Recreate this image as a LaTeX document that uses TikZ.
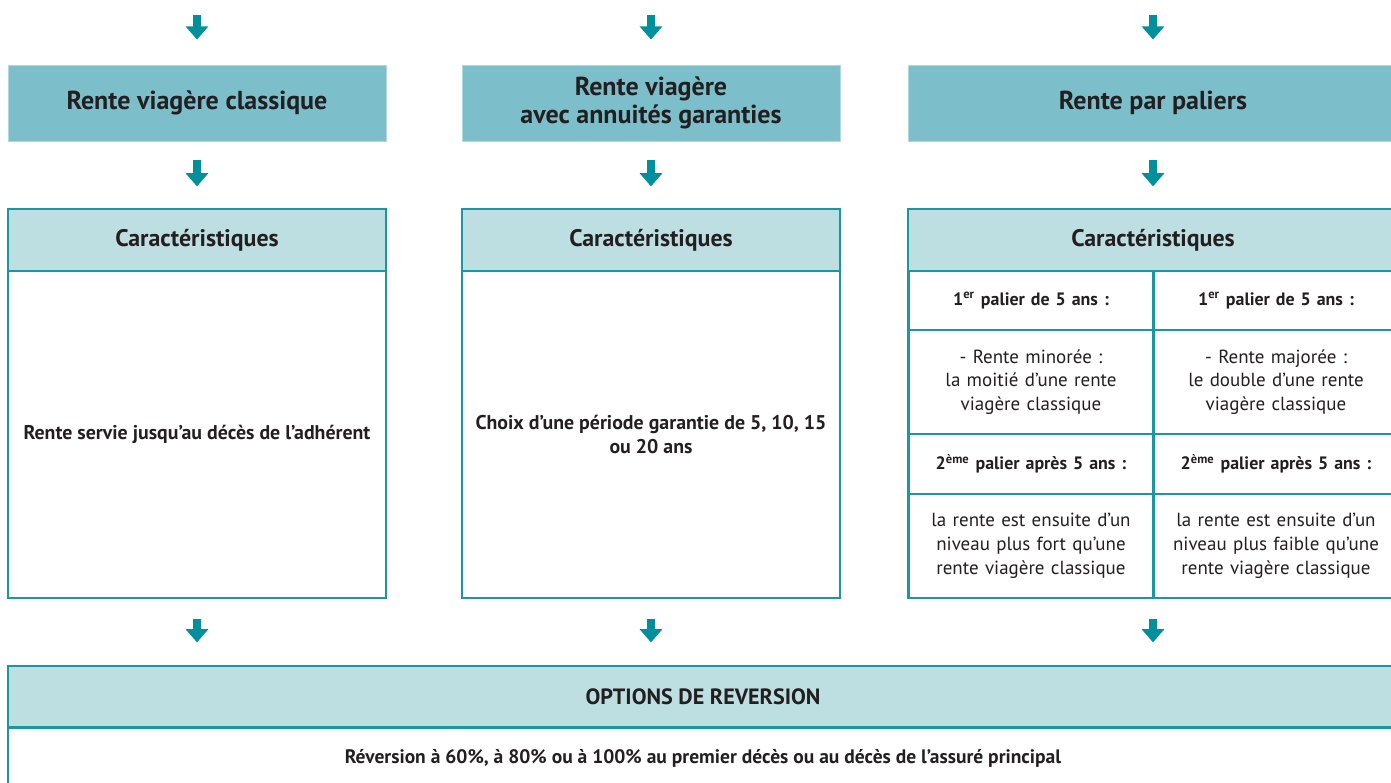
\documentclass[tikz,border=0pt]{standalone}
\usepackage{fontspec}
\setmainfont{PT Sans}
\usetikzlibrary{arrows.meta}

\definecolor{petrol}{HTML}{1A97A3}
\definecolor{arrowpetrol}{HTML}{00909C}
\definecolor{titlefill}{HTML}{7CBFCA}
\definecolor{headfill}{HTML}{BEDFE1}
\definecolor{ink}{HTML}{231F20}

\begin{document}
\begin{tikzpicture}[
	every node/.style={text=ink, align=center, inner sep=2pt},
	titlebox/.style={fill=titlefill, draw=titlefill!60, line width=0.5pt, minimum height=1.52cm, font=\bfseries\fontsize{14.8}{16}\selectfont},
	headbox/.style={fill=headfill, draw=petrol, line width=0.7pt, minimum height=1.24cm, font=\bfseries\fontsize{13.6}{15}\selectfont},
	bodybox/.style={draw=petrol, line width=0.7pt, minimum height=6.54cm, font=\bfseries\fontsize{11.3}{14}\selectfont},
	cell/.style={draw=petrol, line width=1.6pt, minimum width=4.9cm, text width=4.6cm},
	flow/.style={draw=arrowpetrol, line width=4pt, -{Triangle[width=12.5pt,length=7.5pt]}}
	]
	\clip (0,0) rectangle (27.82,-15.64);
	
	% Draw nodes, the three kinds of annuity
	\node[titlebox, minimum width=7.56cm] (classic) at (3.94,-2.06) {Rente viagère classique};
	\node[titlebox, minimum width=7.56cm] (annuity) at (13.02,-2.06) {Rente viagère\\avec annuités garanties};
	\node[titlebox, minimum width=9.8cm] (steps) at (23.06,-2.06) {Rente par paliers};
	
	% Draw nodes, characteristics
	\node[headbox, minimum width=7.56cm] (car1) at (3.94,-4.8) {Caractéristiques};
	\node[headbox, minimum width=7.56cm] (car2) at (13.02,-4.8) {Caractéristiques};
	\node[headbox, minimum width=9.8cm] (car3) at (23.06,-4.8) {Caractéristiques};
	\node[bodybox, minimum width=7.56cm] (body1) at (3.94,-8.69) {Rente servie jusqu’au décès de l’adhérent};
	\node[bodybox, minimum width=7.56cm] (body2) at (13.02,-8.69) {Choix d’une période garantie de 5, 10, 15\\ou 20 ans};
	\node[bodybox, minimum width=9.8cm] (body3) at (23.06,-8.69) {};
	
	% Draw nodes, the table of steps
	\node[cell, minimum height=1.18cm, font=\bfseries\fontsize{10.2}{13}\selectfont] (p1a) at (20.62,-6.01) {1\textsuperscript{er} palier de 5 ans :};
	\node[cell, minimum height=1.18cm, font=\bfseries\fontsize{10.2}{13}\selectfont] (p1b) at (25.52,-6.01) {1\textsuperscript{er} palier de 5 ans :};
	\node[cell, minimum height=2.08cm, font=\fontsize{10.8}{13.5}\selectfont] (t1a) at (20.62,-7.64) {- Rente minorée :\\la moitié d’une rente\\viagère classique};
	\node[cell, minimum height=2.08cm, font=\fontsize{10.8}{13.5}\selectfont] (t1b) at (25.52,-7.64) {- Rente majorée :\\le double d’une rente\\viagère classique};
	\node[cell, minimum height=1.2cm, font=\bfseries\fontsize{10.2}{13}\selectfont] (p2a) at (20.62,-9.28) {2\textsuperscript{ème} palier après 5 ans :};
	\node[cell, minimum height=1.2cm, font=\bfseries\fontsize{10.2}{13}\selectfont] (p2b) at (25.52,-9.28) {2\textsuperscript{ème} palier après 5 ans :};
	\node[cell, minimum height=2.08cm, font=\fontsize{10.8}{13.5}\selectfont] (t2a) at (20.62,-10.92) {la rente est ensuite d’un\\niveau plus fort qu’une\\rente viagère classique};
	\node[cell, minimum height=2.08cm, font=\fontsize{10.8}{13.5}\selectfont] (t2b) at (25.52,-10.92) {la rente est ensuite d’un\\niveau plus faible qu’une\\rente viagère classique};
	
	% Draw nodes, reversion options
	\node[headbox, minimum width=27.8cm, minimum height=1.22cm, font=\bfseries\fontsize{12.6}{14}\selectfont] (opt) at (14.06,-13.93) {OPTIONS DE REVERSION};
	\node[bodybox, minimum width=27.8cm, minimum height=1.2cm, anchor=north, font=\bfseries\fontsize{11.1}{14}\selectfont] (rev) at (opt.south) {Réversion à 60\%, à 80\% ou à 100\% au premier décès ou au décès de l’assuré principal};
	
	% Draw arrows, into the first row
	\coordinate (in1) at (3.94,-0.3);
	\coordinate (in2) at (13.02,-0.3);
	\coordinate (in3) at (23.06,-0.3);
	\draw[flow, shorten >=0.5cm] (in1) -- (classic);
	\draw[flow, shorten >=0.5cm] (in2) -- (annuity);
	\draw[flow, shorten >=0.5cm] (in3) -- (steps);
	
	% Draw arrows, between the rows
	\draw[flow, shorten <=0.38cm, shorten >=0.44cm] (classic) -- (car1);
	\draw[flow, shorten <=0.38cm, shorten >=0.44cm] (annuity) -- (car2);
	\draw[flow, shorten <=0.38cm, shorten >=0.44cm] (steps) -- (car3);
	\draw[flow, shorten <=0.4cm, shorten >=0.46cm] (body1) -- (body1 |- opt.north);
	\draw[flow, shorten <=0.4cm, shorten >=0.46cm] (body2) -- (body2 |- opt.north);
	\draw[flow, shorten <=0.4cm, shorten >=0.46cm] (body3) -- (body3 |- opt.north);
	
\end{tikzpicture}
\end{document}
